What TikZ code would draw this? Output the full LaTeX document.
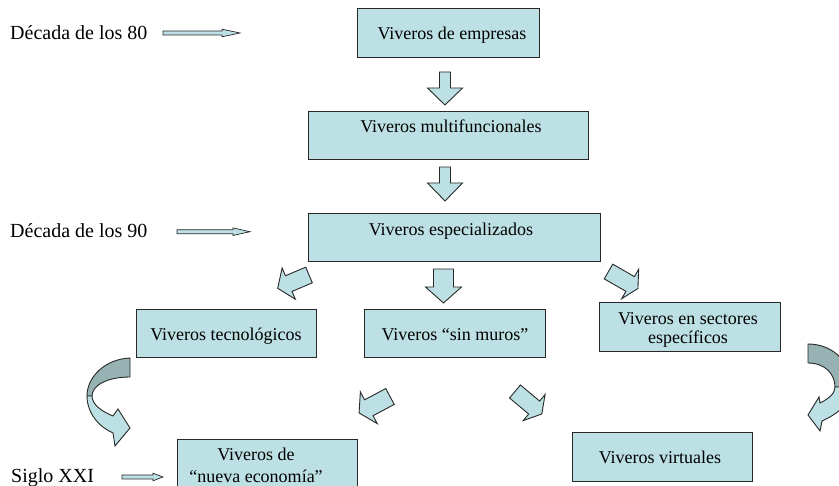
\documentclass[tikz,border=0pt]{standalone}
\usepackage{fontspec}
\setmainfont{Liberation Serif}
\definecolor{boxblue}{RGB}{188,224,227}
\definecolor{foldgray}{RGB}{150,178,178}
\definecolor{edgecol}{RGB}{40,40,40}
\tikzset{
  box/.style={draw=edgecol, line width=1pt, fill=boxblue, inner sep=0pt},
  btxt/.style={font=\fontsize{18}{20}\selectfont, inner sep=0pt, anchor=base},
  ltxt/.style={font=\fontsize{20}{24}\selectfont, inner sep=0pt, anchor=base west},
  barrow/.style={draw=edgecol, line width=0.9pt, fill=boxblue, line join=miter},
  thinarrow/.style={draw=edgecol, line width=0.7pt, fill=boxblue, line join=miter},
  foldpart/.style={draw=edgecol, line width=0.9pt, fill=foldgray, line join=round},
  lightpart/.style={draw=edgecol, line width=0.9pt, fill=boxblue, line join=miter},
}
% tail x, tail y, angle, shaft length, shaft half width, head half width, head length, style
\newcommand\myblk[8]{%
  \begin{scope}[shift={(#1,#2)},rotate=#3]
    \draw[#8] (0,-#5) -- (#4,-#5) -- (#4,-#6) -- ({#4+#7},0) -- (#4,#6) -- (#4,#5) -- (0,#5) -- cycle;
  \end{scope}}
\begin{document}
\begin{tikzpicture}[x=1pt,y=-1pt]
\useasboundingbox (0,0) rectangle (839,486);
\clip (0,0) rectangle (839,486);

% boxes
\node[box, minimum width=182pt, minimum height=49pt] (b1) at (448,33.5) {};
\node[box, minimum width=280pt, minimum height=48pt] (b2) at (448,136) {};
\node[box, minimum width=292pt, minimum height=48pt] (b3) at (454,238) {};
\node[box, minimum width=180pt, minimum height=48pt] (b4) at (226,334) {};
\node[box, minimum width=181pt, minimum height=48pt] (b5) at (454.5,334) {};
\node[box, minimum width=181pt, minimum height=49pt] (b6) at (689.5,327.5) {};
\node[box, minimum width=180pt, minimum height=60pt] (b7) at (267,470) {};
\node[box, minimum width=180pt, minimum height=49pt] (b8) at (662,457.5) {};

% box texts
\node[btxt] (t1) at (452,39.3) {Viveros de empresas};
\node[btxt] (t2) at (451,133) {Viveros multifuncionales};
\node[btxt] (t3) at (451,235.5) {Viveros especializados};
\node[btxt] (t4) at (226,341) {Viveros tecnológicos};
\node[btxt] (t5) at (455,341) {Viveros “sin muros”};
\node[btxt] (t6a) at (688,325) {Viveros en sectores};
\node[btxt] (t6b) at (688,344) {específicos};
\node[btxt] (t7a) at (256,461) {Viveros de};
\node[btxt] (t7b) at (256,483) {“nueva economía”};
\node[btxt] (t8) at (660,463.5) {Viveros virtuales};

% left labels
\node[ltxt] (l1) at (10,39.5) {Década de los 80};
\node[ltxt] (l2) at (10,237.7) {Década de los 90};
\node[ltxt] (l3) at (11,483) {Siglo XXI};

% thin horizontal arrows
\myblk{163}{33}{0}{59}{2}{3.8}{18}{thinarrow}
\myblk{177}{231.7}{0}{56}{2}{3.8}{17}{thinarrow}
\myblk{122}{477}{0}{31}{2}{3.8}{10}{thinarrow}

% block arrows
\myblk{445}{72}{-90}{16}{5.5}{17.5}{17}{barrow}
\myblk{445}{167}{-90}{16}{5.5}{17.5}{18}{barrow}
\myblk{443.5}{269}{-90}{18}{10}{18}{16}{barrow}
\myblk{309}{275}{203}{22}{8.5}{17}{12}{barrow}
\myblk{608.5}{271.5}{-30}{25}{8.5}{17}{9}{barrow}
\myblk{390}{396.5}{208}{24}{9}{18}{11}{barrow}
\myblk{515}{391.5}{-40}{25}{8.5}{17}{10}{barrow}

% left curved arrow
\draw[foldpart] (130,358) .. controls (105,359) and (87,377) .. (87,396)
  -- (92,396) .. controls (92,385) and (108,377) .. (130,377) -- cycle;
\draw[lightpart] (87,396) .. controls (87,413) and (99,427) .. (113,433)
  -- (115,446) -- (130,428) -- (118,409) -- (113,416)
  .. controls (103,412) and (92,405) .. (92,396) -- cycle;

% right curved arrow
\draw[foldpart] (808,344) .. controls (835,344) and (852,365) .. (852,387)
  -- (835,387) .. controls (835,374) and (825,363) .. (808,363) -- cycle;
\draw[lightpart] (852,387) .. controls (852,402) and (838,414) .. (822,421)
  -- (820,431) -- (808,415) -- (819,397) -- (820,403)
  .. controls (830,398) and (835,393) .. (835,387) -- cycle;
\end{tikzpicture}
\end{document}
